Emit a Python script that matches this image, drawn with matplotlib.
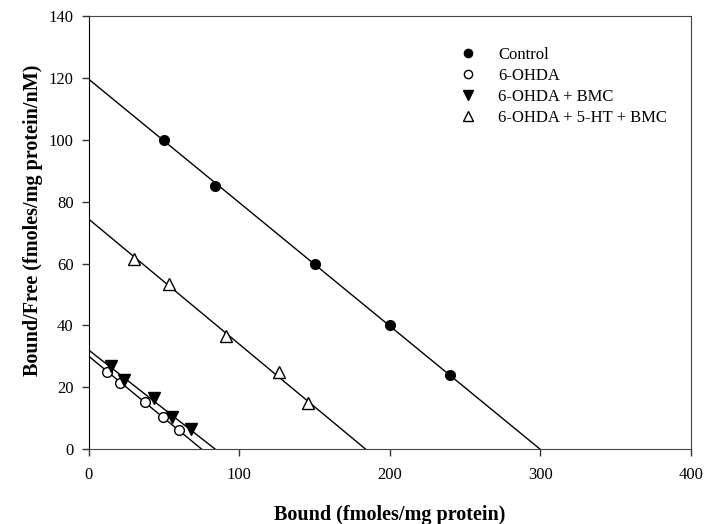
import matplotlib
matplotlib.use('Agg')
import matplotlib.pyplot as plt
import numpy as np

plt.rcParams['font.family'] = ['Liberation Serif', 'DejaVu Serif']

groups = ['Control', '6-OHDA', '6-OHDA + BMC', '6-OHDA + 5-HT + BMC']

# bound (x) and bound/free (y) for each group
control_x = [50, 84, 150, 200, 240]
control_y = [100, 85, 60, 40, 24]
ohda_x = [12, 20.5, 37, 49.5, 60]
ohda_y = [25, 21.5, 15.3, 10.3, 6.3]
bmc_x = [14.5, 23, 43, 55.5, 68]
bmc_y = [27, 22.5, 16.5, 10.5, 6.5]
ht_x = [30, 53, 91, 126, 145.5]
ht_y = [61.5, 53.5, 36.5, 25, 15]

# Scatchard lines: y-intercept and x-intercept (Bmax)
line_y0 = [119.5, 30, 32, 74.3]
line_bmax = [300, 75, 84, 184]

markers = [
    dict(marker='o', markersize=7, mfc='black', mec='black'),
    dict(marker='o', markersize=7, mfc='white', mec='black', mew=1),
    dict(marker='v', markersize=8, mfc='black', mec='black'),
    dict(marker='^', markersize=8, mfc='white', mec='black', mew=1),
]

fig = plt.figure(figsize=(7.04, 5.24), dpi=100)
ax = fig.add_axes([0.1264, 0.1426, 0.8546, 0.8269])

xs = [control_x, ohda_x, bmc_x, ht_x]
ys = [control_y, ohda_y, bmc_y, ht_y]
for i in range(len(groups)):
    ax.plot([0, line_bmax[i]], [line_y0[i], 0], color='black', lw=1, zorder=2)
    ax.plot(xs[i], ys[i], linestyle='none', label=groups[i], zorder=3, **markers[i])

ax.set_xlim(0, 400)
ax.set_ylim(0, 140)
ax.set_xticks(np.arange(0, 401, 100))
ax.set_yticks(np.arange(0, 141, 20))
ax.tick_params(direction='out', length=5, width=1, labelsize=12, color='#333333')
ax.tick_params(axis='x', pad=8)
ax.tick_params(axis='y', pad=6)
for s in ['top', 'right', 'bottom']:
    ax.spines[s].set_color('#444444')
ax.spines['left'].set_color('black')

ax.set_xlabel('Bound (fmoles/mg protein)', fontsize=14.5, fontweight='bold')
ax.set_ylabel('Bound/Free (fmoles/mg protein/nM)', fontsize=14.5, fontweight='bold')
ax.xaxis.set_label_coords(0.5, -0.128)
ax.yaxis.set_label_coords(-0.077, 0.528)

leg = ax.legend(loc='upper left', bbox_to_anchor=(0.6, 0.948), frameon=False, fontsize=12,
                handlelength=1.2, handletextpad=1.2, labelspacing=0.3, borderpad=0,
                markerscale=0.85)

fig.savefig('out.png', dpi=100)
